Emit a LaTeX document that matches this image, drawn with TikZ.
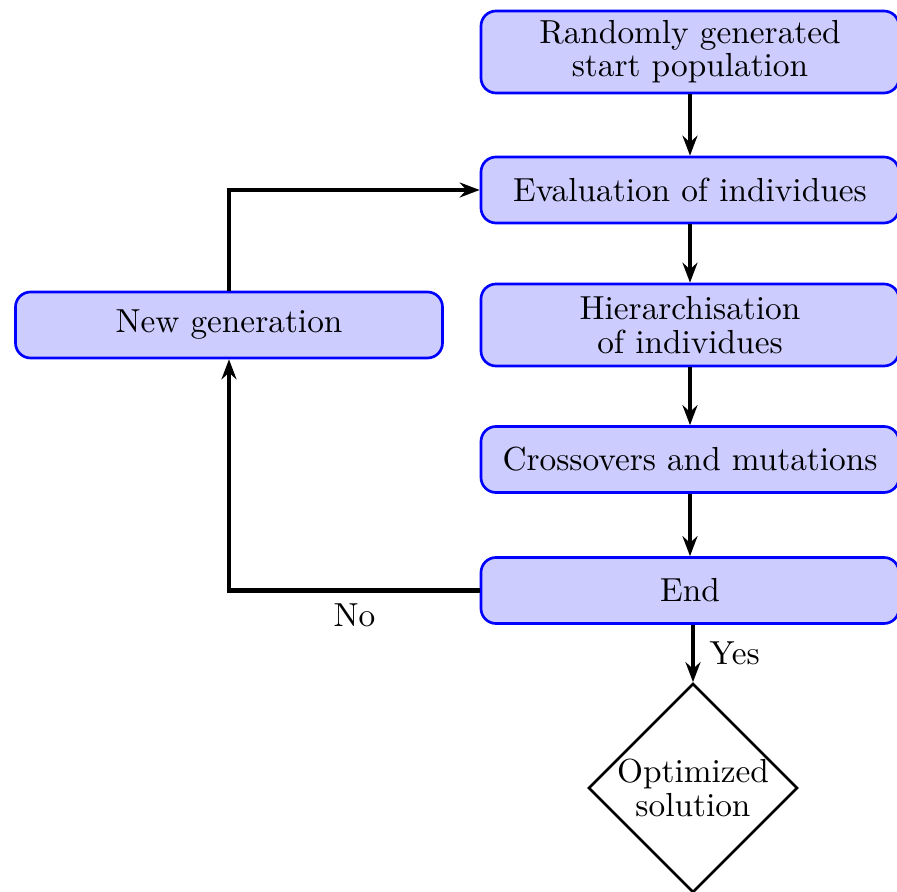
\documentclass[tikz,border=0pt]{standalone}
\usetikzlibrary{arrows.meta,shapes.geometric}
\begin{document}
\begin{tikzpicture}[x=0.3pt,y=-0.3pt,
  every node/.style={font=\fontsize{10}{10}\selectfont},
  procbox/.style={draw=blue,fill=blue!20,line width=0.8pt,rounded corners=4.5pt,
    inner sep=0pt,align=center,minimum width=125.4pt},
  onebox/.style={procbox,minimum height=19.8pt},
  twobox/.style={procbox,minimum height=24.6pt},
  endbox/.style={diamond,draw=black,line width=0.8pt,inner sep=0pt,align=center,
    minimum width=62pt,minimum height=61pt},
  flow/.style={line width=1.3pt,-{Stealth[length=6pt,width=4.5pt,inset=2pt]}}]
\useasboundingbox (0,0) rectangle (897,892);
\node[twobox] (start) at (690,52) {Randomly generated\\start population};
\node[onebox] (eval) at (690,190) {Evaluation of individues};
\node[twobox] (hier) at (690,325) {Hierarchisation\\of individues};
\node[onebox] (cross) at (690,459.5) {Crossovers and mutations};
\node[onebox] (end) at (690,590.5) {End};
\node[onebox,minimum width=128.1pt] (newgen) at (229,325) {New generation};
\node[endbox] (opt) at (693,788) {Optimized\\solution};
\draw[flow] (start) -- (eval);
\draw[flow] (eval) -- (hier);
\draw[flow] (hier) -- (cross);
\draw[flow] (cross) -- (end);
\draw[flow] (end.south -| opt.north) -- node[right=1pt,pos=0.5] {Yes} (opt.north);
\draw[flow] (end.west) -| node[below=0pt,pos=0.25] {No} (newgen.south);
\draw[flow] (newgen.north) |- (eval.west);
\end{tikzpicture}
\end{document}
